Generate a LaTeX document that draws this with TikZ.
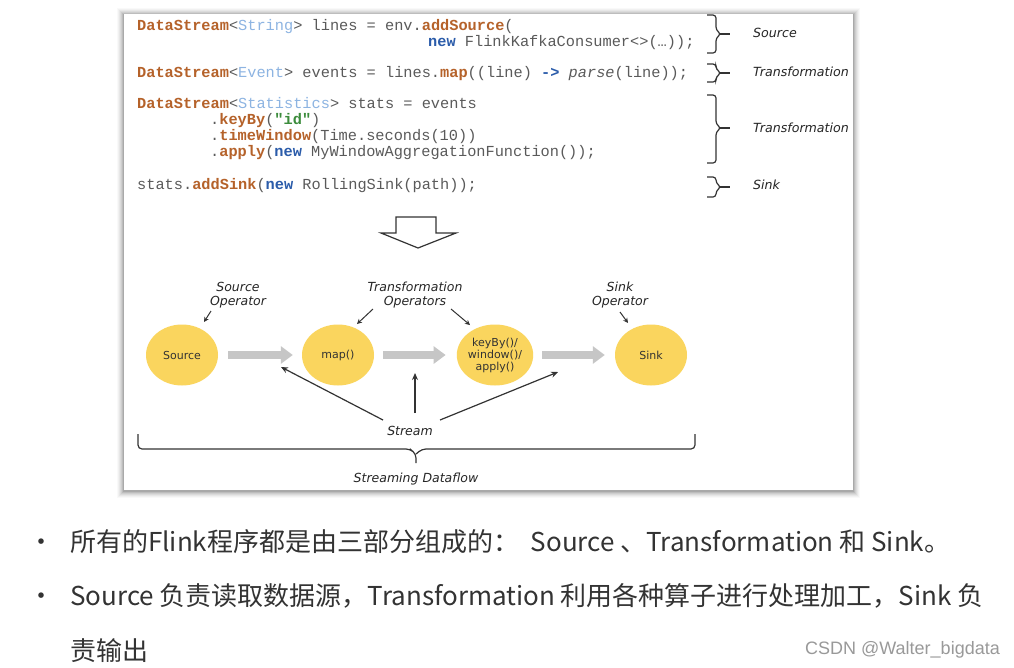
\documentclass[tikz,border=0pt]{standalone}
\usepackage{fontspec}
\setmainfont{DejaVu Sans}
\newfontfamily\codefont{Liberation Mono}
\newfontfamily\cjk{Noto Sans CJK SC}
\newfontfamily\wmfont{Liberation Sans}
\usetikzlibrary{shapes.geometric,arrows.meta}
\definecolor{cbrown}{HTML}{B5622A}
\definecolor{ctype}{HTML}{8DB4E2}
\definecolor{cnew}{HTML}{2B5CAA}
\definecolor{cgreen}{HTML}{3C8C3C}
\definecolor{cplain}{HTML}{5A5A5A}
\definecolor{yel}{HTML}{FAD55E}
\definecolor{garr}{HTML}{C6C6C6}
\definecolor{txt}{HTML}{333333}
\newcommand\cBr[1]{\textcolor{cbrown}{\bfseries #1}}
\newcommand\cTy[1]{\textcolor{ctype}{#1}}
\newcommand\cNw[1]{\textcolor{cnew}{\bfseries #1}}
\newcommand\cGr[1]{\textcolor{cgreen}{\bfseries #1}}
\begin{document}
\begin{tikzpicture}[x=1pt,y=-1pt,
  code/.style={anchor=base west,inner sep=0pt,text=cplain,font=\codefont\fontsize{15.3}{18}\selectfont},
  blab/.style={anchor=west,inner sep=0pt,text=black!85,font=\itshape\fontsize{12.6}{14}\selectfont},
  olab/.style={align=center,inner sep=0pt,text=black!85,font=\itshape\fontsize{12.5}{13.5}\selectfont},
  ell/.style={ellipse,fill=yel,minimum width=72pt,minimum height=61pt,inner sep=0pt,align=center,text=black!80,font=\fontsize{11}{12}\selectfont},
  bracestyle/.style={draw=txt,line width=1.2pt,rounded corners=3pt},
  garrow/.style={draw=garr,line width=8pt,-{Triangle[length=12pt,width=17pt]}},
  sarrow/.style={draw=txt,line width=1.2pt,-{Stealth[length=7pt,width=6pt]}},
  cjktext/.style={anchor=base west,inner sep=0pt,text=txt,font=\cjk\fontsize{26}{30}\selectfont}]
\useasboundingbox (0,0) rectangle (1014,667);
\fill[white] (0,0) rectangle (1014,667);
% panel with shadow
\foreach \d/\o in {7/0.025,6/0.03,5/0.04,4/0.05,3/0.06,2/0.08,1/0.1}
  \fill[black,opacity=\o] (124-\d,14-\d+1) rectangle (853+\d,490+\d+1);
\fill[white] (124,14) rectangle (853,490);
% code
\node[code] (l1) at (137,30) {\cBr{DataStream}<\cTy{String}> lines = env.\cBr{addSource}(};
\node[code] (l2) at (428,46) {\cNw{new} FlinkKafkaConsumer<>(…));};
\node[code] (l3) at (137,77) {\cBr{DataStream}<\cTy{Event}> events = lines.\cBr{map}((line) \cNw{->} \textit{parse}(line));};
\node[code] (l4) at (137,108) {\cBr{DataStream}<\cTy{Statistics}> stats = events};
\node[code] (l5) at (210,124) {.\cBr{keyBy}(\cGr{"id"})};
\node[code] (l6) at (210,140) {.\cBr{timeWindow}(Time.seconds(10))};
\node[code] (l7) at (210,156) {.\cBr{apply}(\cNw{new} MyWindowAggregationFunction());};
\node[code] (l8) at (137,189) {stats.\cBr{addSink}(\cNw{new} RollingSink(path));};
% braces
\foreach \ya/\yb/\ym in {15/53/34, 64/82/73, 95/163/128, 177/197/187}{
  \draw[bracestyle] (707,\ya) -- (716,\ya) -- (716,\ym-4) -- (721,\ym) -- (716,\ym+4) -- (716,\yb) -- (707,\yb);
  \draw[draw=txt,line width=1.2pt] (720,\ym) -- (730,\ym);
}
\node[blab] (b1) at (753,33) {Source};
\node[blab] (b2) at (753,72) {Transformation};
\node[blab] (b3) at (753,128) {Transformation};
\node[blab] (b4) at (753,185) {Sink};
% hollow arrow
\draw[txt,line width=1.2pt,fill=white,line join=miter] (396,217) -- (436,217) -- (436,233) -- (456,233) -- (418,248) -- (381,233) -- (396,233) -- cycle;
% operators
\node[ell] (src) at (182,355) {Source};
\node[ell] (map) at (338,355) {map()};
\node[ell] (key) at (495,355) {keyBy()/\\window()/\\apply()};
\node[ell] (snk) at (651,355) {Sink};
\draw[garrow,shorten <=10pt,shorten >=9pt] (src) -- (map);
\draw[garrow,shorten <=9pt,shorten >=11pt] (map) -- (key);
\draw[garrow,shorten <=9pt,shorten >=10pt] (key) -- (snk);
\node[olab] (srcop) at (238,295) {Source\\Operator};
\node[olab] (trop) at (415,295) {Transformation\\Operators};
\node[olab] (snkop) at (620,295) {Sink\\Operator};
\coordinate (a1s) at (211,311); \coordinate (a1e) at (204,322);
\coordinate (a2s) at (373,309); \coordinate (a2e) at (357,324);
\coordinate (a3s) at (451,309); \coordinate (a3e) at (470,325);
\coordinate (a4s) at (620,312); \coordinate (a4e) at (628,323);
\draw[draw=txt,line width=1pt,-{Stealth[length=5pt,width=5pt]}] (a1s) -- (a1e);
\draw[draw=txt,line width=1pt,-{Stealth[length=5pt,width=5pt]}] (a2s) -- (a2e);
\draw[draw=txt,line width=1pt,-{Stealth[length=5pt,width=5pt]}] (a3s) -- (a3e);
\draw[draw=txt,line width=1pt,-{Stealth[length=5pt,width=5pt]}] (a4s) -- (a4e);
\node[olab] (stream) at (410,431) {Stream};
\coordinate (s1) at (383,420); \coordinate (t1) at (281,367);
\coordinate (s2) at (415,413); \coordinate (t2) at (415,373);
\coordinate (s3) at (440,420); \coordinate (t3) at (558,372);
\draw[sarrow] (s1) -- (t1);
\draw[sarrow] (s2) -- (t2);
\draw[sarrow] (s3) -- (t3);
% bottom brace
\draw[txt,line width=1.2pt,rounded corners=4pt] (138,434) |- (410,449) -- (416,454) -- (416,463);
\draw[txt,line width=1.2pt,rounded corners=4pt] (416,454) -- (422,449) -| (695,434);
\node[olab] (sdf) at (416,479) {Streaming Dataflow};
% bullets
\node[cjktext] (d1) at (28,551) {•};
\node[cjktext] (t1txt) at (70,551) {所有的Flink程序都是由三部分组成的：\ \ Source 、Transformation 和 Sink。};
\node[cjktext] (d2) at (28,605) {•};
\node[cjktext] (t2txt) at (70,605) {Source 负责读取数据源，Transformation 利用各种算子进行处理加工，Sink 负};
\node[cjktext] (t3txt) at (70,660) {责输出};
\node[anchor=base east,inner sep=0pt,text=black!40,font=\wmfont\fontsize{18}{20}\selectfont] (wm) at (1000,654) {CSDN @Walter\_bigdata};
\end{tikzpicture}
\end{document}
